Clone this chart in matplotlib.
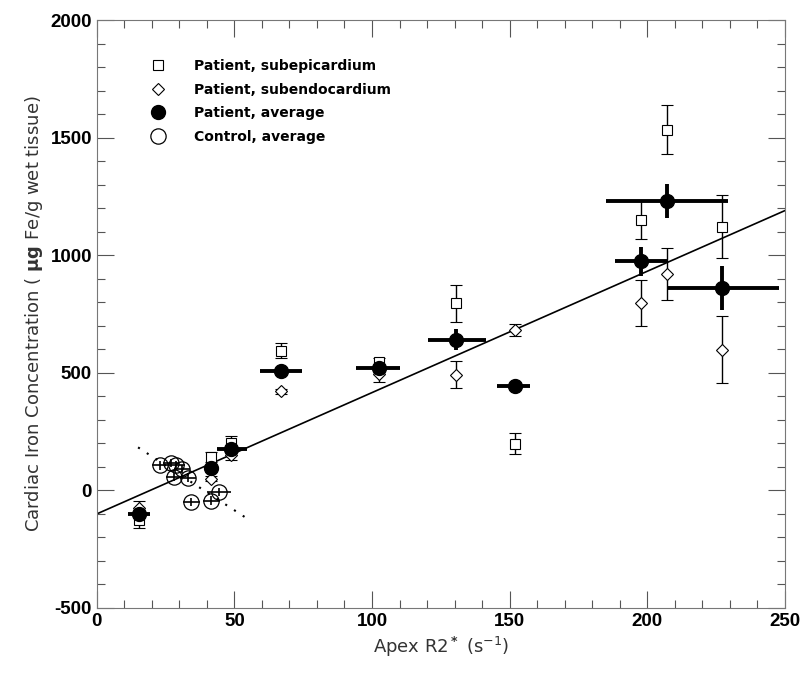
import matplotlib.pyplot as plt
import numpy as np
from matplotlib.ticker import MultipleLocator

plt.rcParams['axes.unicode_minus'] = False

# patient data (apex R2*, s^-1) and iron (ug Fe/g wet tissue)
pat_x = [15.4, 41.6, 48.6, 67.1, 102.5, 130.7, 151.9, 197.7, 207.2, 227.3]
pat_xlo = [11.4, 39.3, 43.5, 59.2, 94.1, 120.4, 145.5, 188.2, 185.0, 207.2]
pat_xhi = [19.5, 44.0, 54.4, 74.4, 110.3, 141.6, 157.3, 207.2, 229.4, 247.8]
pat_avg = [-99, 96, 174, 506, 520, 641, 443, 974, 1230, 860]
pat_avg_err = [25, 20, 50, 12, 12, 45, 10, 63, 72, 93]

epi = [-125, 142, 200, 595, 545, 796, 198, 1151, 1535, 1122]
epi_err = [35, 20, 30, 31, 20, 78, 45, 83, 103, 135]
endo = [-75, 50, 150, 421, 494, 492, 682, 798, 920, 598]
endo_err = [30, 12, 20, 12, 33, 58, 27, 99, 112, 142]

ctl_x = [23.1, 26.9, 28.9, 31.0, 28.1, 33.2, 44.4, 41.6, 34.4]
ctl_y = [106, 116, 106, 92, 57, 54, -7, -43, -50]
ctl_xerr = [3, 3, 3, 3, 3, 3, 4.5, 3, 3]
ctl_yerr = [18, 18, 18, 18, 18, 18, 18, 18, 18]

fit_x = [0, 250]
fit_y = [-100, 1190]
ctl_fit_x = [15, 54]
ctl_fit_y = [183, -115]

fig = plt.figure(figsize=(8, 6.74), dpi=100)
ax = fig.add_axes([0.121, 0.098, 0.860, 0.872])

ax.plot(fit_x, fit_y, color='black', lw=1.2)
ax.plot(ctl_fit_x, ctl_fit_y, color='black', lw=1.5, ls=(0, (1, 4)))

ax.errorbar(pat_x, epi, yerr=epi_err, fmt='s', ms=6.5, mfc='white', mec='black',
            mew=0.8, ecolor='black', elinewidth=1.0, capsize=4, capthick=1.0)
ax.errorbar(pat_x, endo, yerr=endo_err, fmt='D', ms=6.5, mfc='white', mec='black',
            mew=0.8, ecolor='black', elinewidth=1.0, capsize=4, capthick=1.0)

xerr = [np.array(pat_x) - np.array(pat_xlo), np.array(pat_xhi) - np.array(pat_x)]
ax.errorbar(pat_x, pat_avg, xerr=xerr, yerr=pat_avg_err, fmt='o', ms=10,
            mfc='black', mec='black', ecolor='black', elinewidth=2.8, capsize=0)

ax.errorbar(ctl_x, ctl_y, xerr=ctl_xerr, yerr=ctl_yerr, fmt='o', ms=11,
            mfc='none', mec='black', mew=0.9, ecolor='black', elinewidth=1.2, capsize=0)

ax.set_xlim(0, 250)
ax.set_ylim(-500, 2000)
ax.xaxis.set_major_locator(MultipleLocator(50))
ax.xaxis.set_minor_locator(MultipleLocator(10))
ax.yaxis.set_major_locator(MultipleLocator(500))
ax.yaxis.set_minor_locator(MultipleLocator(100))
ax.tick_params(which='both', direction='in', top=True, right=True, color='#555555')
ax.tick_params(which='major', length=12, width=0.8)
ax.tick_params(which='minor', length=6, width=0.8)
for lab in ax.get_xticklabels() + ax.get_yticklabels():
    lab.set_fontweight('bold')
    lab.set_fontsize(13.5)
    lab.set_family('Liberation Sans')
for s in ax.spines.values():
    s.set_color('#777777')

ax.set_xlabel('Apex R2$^{\\bf *}$ (s$^{-1}$)', fontsize=13, color='#333333')
ax.set_ylabel('Cardiac Iron Concentration ( $\\mathbf{\\mu g}$ Fe/g wet tissue)',
              fontsize=13, color='#333333')

# legend
hs = [
    plt.Line2D([], [], ls='none', marker='s', ms=6.5, mfc='white', mec='black', mew=0.8),
    plt.Line2D([], [], ls='none', marker='D', ms=6.5, mfc='white', mec='black', mew=0.8),
    plt.Line2D([], [], ls='none', marker='o', ms=10, mfc='black', mec='black'),
    plt.Line2D([], [], ls='none', marker='o', ms=11, mfc='none', mec='black', mew=0.9),
]
labels = ['Patient, subepicardium', 'Patient, subendocardium', 'Patient, average', 'Control, average']
leg = ax.legend(hs, labels, loc='upper left', bbox_to_anchor=(0.05, 0.955), frameon=False,
                prop={'weight': 'bold', 'size': 10}, handletextpad=1.6, labelspacing=0.68)

fig.savefig('out.png', dpi=100)
